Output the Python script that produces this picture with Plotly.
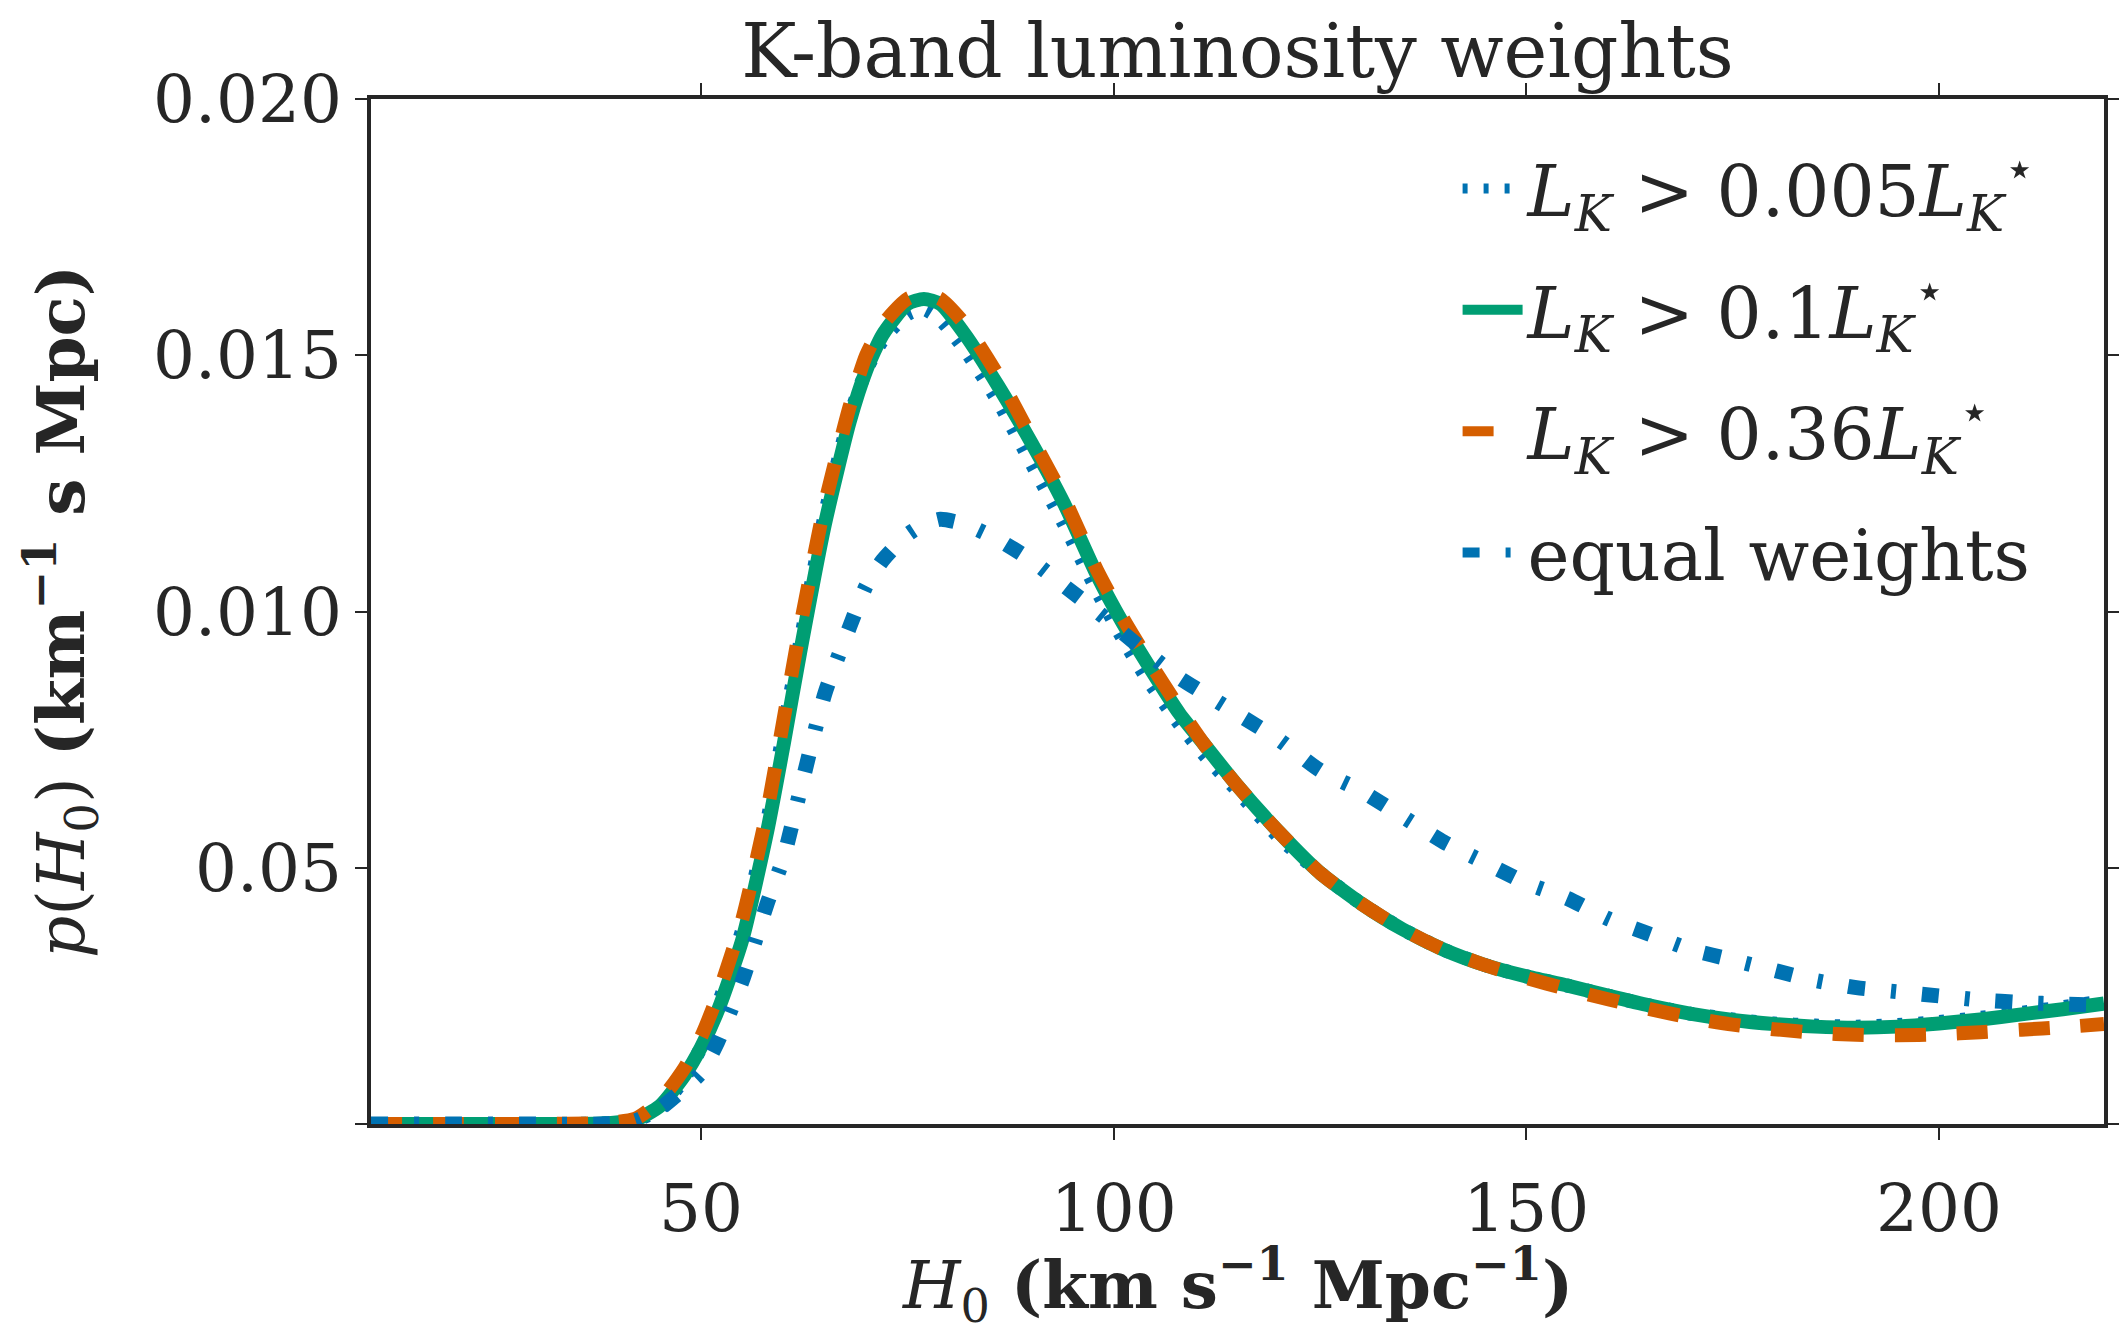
import plotly.graph_objects as go

# H0 grid (km s^-1 Mpc^-1)
H0 = [10, 20, 30, 38, 42, 45, 48, 50, 52, 55, 58, 60, 62, 65, 68, 70, 72, 75, 77, 79,
      82, 86, 90, 94, 98, 101, 104, 108, 111, 115, 120, 125, 130, 135, 140, 145, 150,
      155, 160, 165, 170, 175, 180, 185, 190, 195, 200, 205, 210, 215, 220]

p_005 = [0, 0, 0, 0.00001, 0.00007, 0.0003, 0.0009, 0.0015, 0.0023, 0.0038, 0.0059, 0.0077,
         0.0094, 0.0119, 0.0138, 0.0147, 0.0153, 0.0158, 0.0159, 0.0157, 0.0151, 0.0141,
         0.0129, 0.0117, 0.0104, 0.0095, 0.0087, 0.0078, 0.0072, 0.0065, 0.0056, 0.0049,
         0.0043, 0.0038, 0.0034, 0.0031, 0.00288, 0.0027, 0.0025, 0.00231, 0.00215, 0.00204,
         0.00196, 0.00192, 0.0019, 0.00193, 0.00199, 0.00207, 0.00217, 0.00228, 0.0024]

p_01 = [0, 0, 0, 0.00001, 0.00008, 0.00035, 0.00095, 0.0015, 0.0022, 0.0036, 0.0057, 0.0074,
        0.0092, 0.0117, 0.0137, 0.0147, 0.0154, 0.0160, 0.0161, 0.0160, 0.0154, 0.0144,
        0.0133, 0.0121, 0.0107, 0.0098, 0.0090, 0.0080, 0.0074, 0.0066, 0.0057, 0.0049,
        0.0043, 0.0038, 0.0034, 0.0031, 0.00288, 0.0027, 0.0025, 0.00231, 0.00215, 0.00203,
        0.00195, 0.0019, 0.00188, 0.0019, 0.00196, 0.00204, 0.00214, 0.00224, 0.00235]

p_036 = [0, 0, 0, 0.00002, 0.0001, 0.00045, 0.0011, 0.0017, 0.0025, 0.0040, 0.0061, 0.0079,
         0.0097, 0.0121, 0.0140, 0.0150, 0.0156, 0.0161, 0.0162, 0.0161, 0.0156, 0.0146,
         0.0134, 0.0122, 0.0108, 0.0099, 0.0091, 0.0081, 0.0074, 0.0066, 0.0057, 0.0049,
         0.0043, 0.0038, 0.0034, 0.0031, 0.00285, 0.00263, 0.00243, 0.00224, 0.00207, 0.00194,
         0.00185, 0.00178, 0.00174, 0.00173, 0.00175, 0.00179, 0.00184, 0.00189, 0.00195]

p_equal = [0, 0, 0, 0, 0.00006, 0.0003, 0.0007, 0.0010, 0.0016, 0.0028, 0.0043, 0.0052,
           0.0065, 0.0084, 0.0097, 0.0105, 0.0110, 0.0115, 0.0117, 0.0118, 0.0117, 0.0114,
           0.0110, 0.0105, 0.0100, 0.0096, 0.0092, 0.0087, 0.0084, 0.0080, 0.0075, 0.0069,
           0.0065, 0.0060, 0.0055, 0.0051, 0.0047, 0.0044, 0.0040, 0.0037, 0.0034, 0.0032,
           0.0030, 0.0028, 0.00266, 0.00258, 0.0025, 0.00242, 0.00237, 0.00234, 0.00232]

labels = [
    "<i>L</i><sub><i>K</i></sub> &gt; 0.005<i>L</i><sub><i>K</i></sub><sup>⋆</sup>",
    "<i>L</i><sub><i>K</i></sub> &gt; 0.1<i>L</i><sub><i>K</i></sub><sup>⋆</sup>",
    "<i>L</i><sub><i>K</i></sub> &gt; 0.36<i>L</i><sub><i>K</i></sub><sup>⋆</sup>",
    "equal weights",
]
series = [p_005, p_01, p_036, p_equal]
colors = ["#0072B2", "#009E73", "#D55E00", "#0072B2"]
dashes = ["5px,16px", "solid", "31px,31px", "17px,26px,5px,26px"]
widths = [14, 14, 14, 15]

x_ticks = [50, 100, 150, 200]
y_ticks = [0, 0.005, 0.010, 0.015, 0.020]
y_ticktext = ["", "0.05", "0.010", "0.015", "0.020"]

x_title = "<i>H</i><sub>0</sub> <b>(km s<sup>−1</sup> Mpc<sup>−1</sup>)</b>"
y_title = "<i>p</i>(<i>H</i><sub>0</sub>) <b>(km<sup>−1</sup> s Mpc)</b>"

FONT = "DejaVu Serif"
INK = "#262626"

fig = go.Figure()
for i, (lab, ys, c, d, w) in enumerate(zip(labels, series, colors, dashes, widths)):
    fig.add_trace(go.Scatter(
        x=H0, y=ys, mode="lines", name=lab, legendgroup=f"g{i}",
        line=dict(color=c, width=w, dash=d, shape="spline", smoothing=0.6),
    ))

axis_common = dict(
    showline=True, linecolor=INK, linewidth=3.5, mirror="ticks",
    ticks="outside", ticklen=12, tickwidth=2, tickcolor=INK,
    showgrid=False, zeroline=False, automargin=False,
    tickfont=dict(family=FONT, size=66, color=INK),
)

fig.update_layout(
    width=2111, height=1326,
    margin=dict(l=363, r=15, t=91, b=210),
    paper_bgcolor="white", plot_bgcolor="white",
    font=dict(family=FONT, color=INK),
    title=dict(text="K-band luminosity weights", x=0.5, xref="paper", xanchor="center",
               y=1, yref="paper", yanchor="bottom", pad=dict(b=22),
               font=dict(family=FONT, size=74, color=INK)),
    xaxis=dict(range=[10, 220], tickvals=x_ticks, ticktext=[str(v) for v in x_ticks],
               ticklabelstandoff=12, **axis_common),
    yaxis=dict(range=[0, 0.020], tickvals=y_ticks, ticktext=y_ticktext,
               title=dict(text=y_title, font=dict(family=FONT, size=66, color=INK), standoff=48),
               **axis_common),
    legend=dict(x=0.627, y=0.964, xanchor="left", yanchor="top", bgcolor="rgba(0,0,0,0)",
                font=dict(family=FONT, size=71, color=INK), traceorder="grouped",
                tracegroupgap=26, itemwidth=60),
    showlegend=True,
    annotations=[dict(text=x_title, xref="paper", yref="paper", x=0.5, y=-0.157,
                      xanchor="center", yanchor="middle", showarrow=False,
                      font=dict(family=FONT, size=66, color=INK))],
)

fig.write_html("out.html")
